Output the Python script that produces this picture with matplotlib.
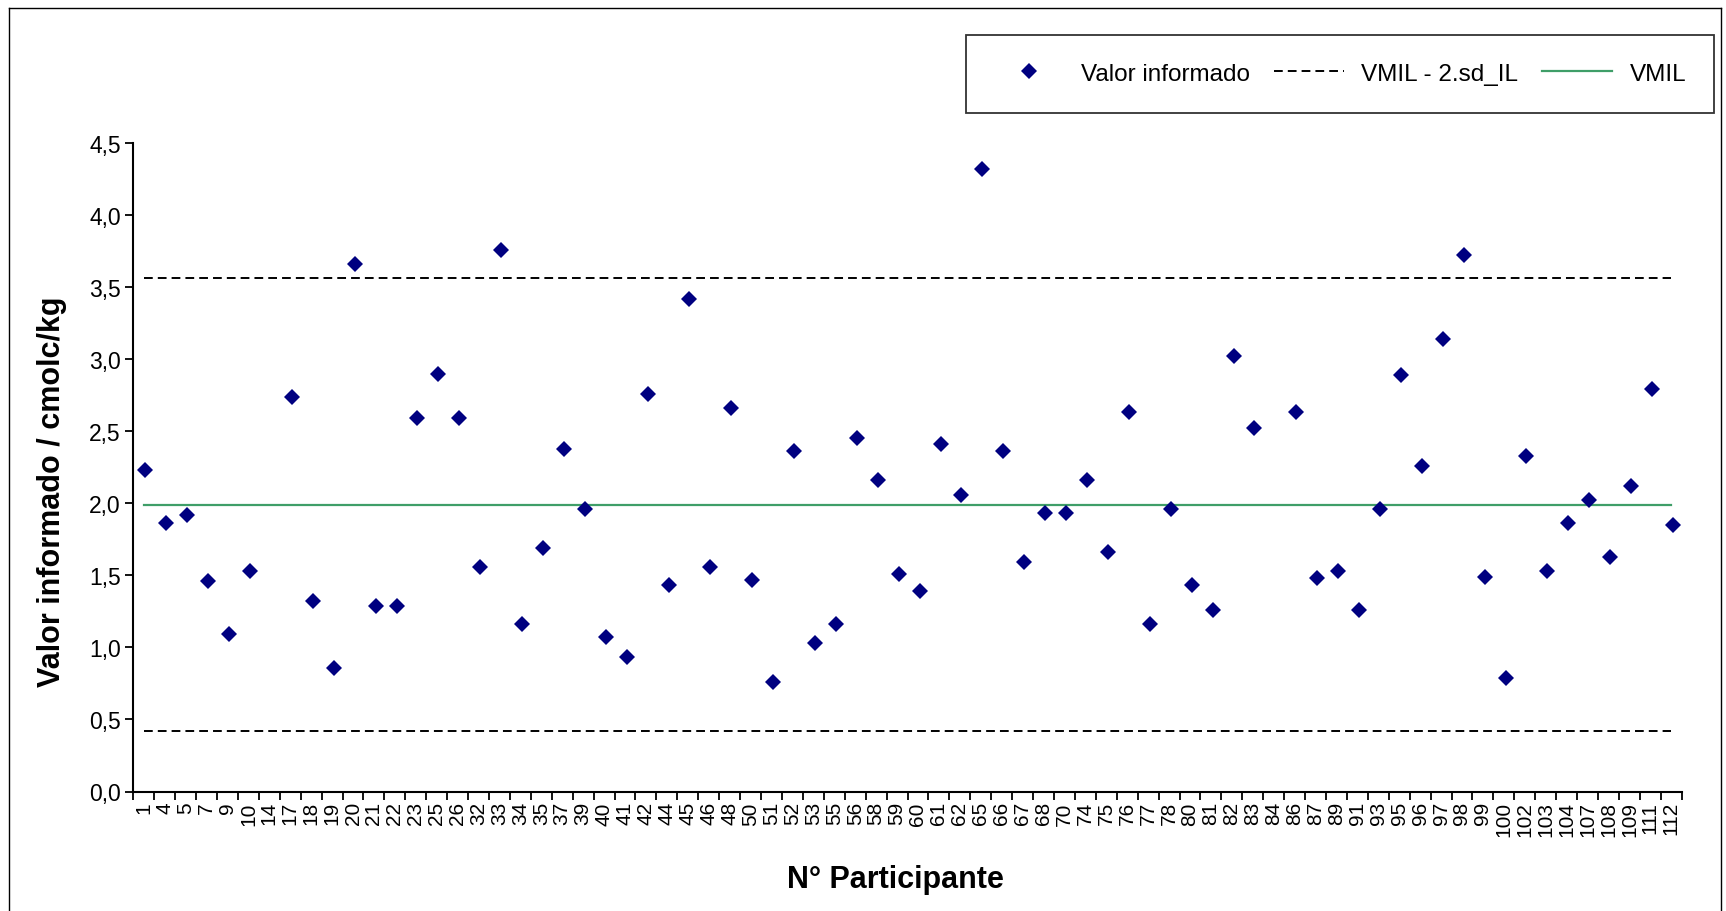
import numpy as np
import matplotlib
matplotlib.use("Agg")
import matplotlib.pyplot as plt
from matplotlib.lines import Line2D
from matplotlib.ticker import FuncFormatter, FixedLocator

plt.rcParams['font.family'] = ['Liberation Sans', 'DejaVu Sans']

# participantes (ordem do eixo x)
participantes = [1, 4, 5, 7, 9, 10, 14, 17, 18, 19, 20, 21, 22, 23, 25, 26, 32, 33, 34, 35,
                 37, 39, 40, 41, 42, 44, 45, 46, 48, 50, 51, 52, 53, 55, 56, 58, 59, 60, 61, 62,
                 65, 66, 67, 68, 70, 74, 75, 76, 77, 78, 80, 81, 82, 83, 84, 86, 87, 89, 91, 93,
                 95, 96, 97, 98, 99, 100, 102, 103, 104, 107, 108, 109, 111, 112]

# valor informado por participante (cmolc/kg); None = sem resultado
valores = [2.23, 1.86, 1.92, 1.46, 1.09, 1.53, None, 2.74, 1.32, 0.86,
           3.66, 1.29, 1.29, 2.59, 2.90, 2.59, 1.56, 3.76, 1.16, 1.69,
           2.38, 1.96, 1.07, 0.93, 2.76, 1.43, 3.42, 1.56, 2.66, 1.47,
           0.76, 2.36, 1.03, 1.16, 2.45, 2.16, 1.51, 1.39, 2.41, 2.06,
           4.32, 2.36, 1.59, 1.93, 1.93, 2.16, 1.66, 2.63, 1.16, 1.96,
           1.43, 1.26, 3.02, 2.52, None, 2.63, 1.48, 1.53, 1.26, 1.96,
           2.89, 2.26, 3.14, 3.72, 1.49, 0.79, 2.33, 1.53, 1.86, 2.02,
           1.63, 2.12, 2.79, 1.85]

vmil = 1.99
sd_il = 0.785

n = len(participantes)
pos = np.arange(n)
y = np.array([np.nan if v is None else v for v in valores])

W, H = 1726, 912
fig = plt.figure(figsize=(W / 100, H / 100), dpi=100)
ax = fig.add_axes([133.3 / W, 1 - 792.5 / H, (1681.7 - 133.3) / W, (792.5 - 144) / H])

dash = (0, (4.5, 2.6))

# linhas de referencia
ax.plot(pos, np.full(n, vmil + 2 * sd_il), color='black', lw=1.4,
        linestyle=dash, label='_nolegend_', zorder=2)
ax.plot(pos, np.full(n, vmil - 2 * sd_il), color='black', lw=1.4,
        linestyle=dash, label='VMIL - 2.sd_IL', zorder=2)
ax.plot(pos, np.full(n, vmil), color='#3f9e68', lw=1.6, label='VMIL', zorder=2)

# pontos
ax.plot(pos + 0.08, y, linestyle='none', marker='D', markersize=8, color='#000080',
        markeredgewidth=0, label='Valor informado', zorder=3)

ax.set_xlim(-0.5, n - 0.5)
ax.set_ylim(0, 4.5)
ax.set_yticks(np.arange(0, 4.51, 0.5))
ax.yaxis.set_major_formatter(FuncFormatter(lambda v, p: f'{v:.1f}'.replace('.', ',')))

ax.set_xticks(pos)
ax.set_xticklabels([str(p) for p in participantes], rotation=90, fontsize=15)
ax.xaxis.set_minor_locator(FixedLocator(np.arange(n + 1) - 0.5))
ax.tick_params(axis='x', which='major', length=0, pad=7)
ax.tick_params(axis='x', which='minor', length=5.5, width=1.3, direction='out', color='black')
ax.tick_params(axis='y', length=6, width=1.3, direction='out', labelsize=16.5, pad=3)

for s in ['top', 'right']:
    ax.spines[s].set_visible(False)
for s in ['left', 'bottom']:
    ax.spines[s].set_linewidth(1.5)
    ax.spines[s].set_color('black')

# titulos dos eixos
fig.text(52 / W, 1 - 492 / H, 'Valor informado / cmolc/kg', rotation=90,
         ha='center', va='center', fontsize=22, fontweight='bold')
fig.text(895 / W, 1 - 880 / H, 'N° Participante', ha='center', va='center',
         fontsize=22, fontweight='bold')

# legenda
handles = [
    Line2D([], [], linestyle='none', marker='D', markersize=8, color='#000080',
           markeredgewidth=0),
    Line2D([], [], color='black', lw=1.4, linestyle=dash),
    Line2D([], [], color='#3f9e68', lw=1.6),
]
leg = ax.legend(handles, ['Valor informado', 'VMIL - 2.sd_IL', 'VMIL'], ncol=3,
                loc='upper left', mode='expand',
                bbox_to_anchor=(966 / W, 1 - 113 / H, 748 / W, 77 / H),
                bbox_transform=fig.transFigure, fontsize=17.5, frameon=True,
                fancybox=False, edgecolor='black', handlelength=2.9,
                handletextpad=0.7, columnspacing=1.3, borderpad=1.15,
                borderaxespad=0, numpoints=1)
leg.get_frame().set_linewidth(1.3)

# moldura da area do grafico
for xs, ys in [((9, 1721), (9, 9)), ((9, 9), (9, H)), ((1721, 1721), (9, H))]:
    fig.add_artist(Line2D([x / W for x in xs], [1 - v / H for v in ys],
                          color='black', lw=1.0, transform=fig.transFigure))

fig.savefig('out.png', dpi=100)
